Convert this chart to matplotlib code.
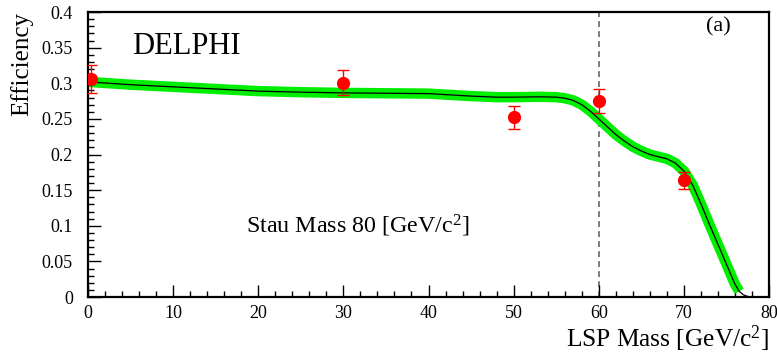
import numpy as np
import matplotlib
matplotlib.use("Agg")
import matplotlib.pyplot as plt
from matplotlib.ticker import MultipleLocator

plt.rcParams['font.family'] = ['Liberation Serif', 'DejaVu Serif']
plt.rcParams['mathtext.fontset'] = 'custom'
plt.rcParams['mathtext.rm'] = 'Liberation Serif'

# measured efficiencies
lsp_mass = [0.3, 30, 50, 60, 70]
eff = [0.306, 0.301, 0.252, 0.275, 0.164]
eff_err = [0.020, 0.0175, 0.016, 0.017, 0.012]

# fitted curve
fit_mass = [0, 5, 10, 15, 20, 25, 30, 35, 40, 45, 48, 50, 53, 55, 56, 57, 58, 59,
            60, 61, 62, 63, 64, 65, 66, 67, 68, 69, 70, 71, 72, 73, 74, 75, 76,
            76.5, 77, 77.7]
fit_eff = [0.302, 0.298, 0.295, 0.292, 0.289, 0.2875, 0.2865, 0.286, 0.2855, 0.282,
           0.2805, 0.2805, 0.281, 0.2805, 0.279, 0.276, 0.270, 0.261,
           0.250, 0.239, 0.228, 0.219, 0.211, 0.205, 0.200, 0.197, 0.194, 0.188,
           0.177, 0.158, 0.131, 0.102, 0.074, 0.046, 0.018,
           0.008, 0.003, 0.0]
band_end = 76.5

fig = plt.figure(figsize=(7.77, 3.56), dpi=100)
ax = fig.add_axes([0.1133, 0.1657, 0.8764, 0.8005])

fm = np.array(fit_mass)
fe = np.array(fit_eff)
sel = fm <= band_end
ax.plot(fm[sel], fe[sel], color='#00ee00', lw=7.5, solid_capstyle='butt', zorder=2)
ax.plot(fm, fe, color='black', lw=0.9, zorder=3)

ax.axvline(60, color='#666666', lw=1.2, ls=(0, (3.5, 2.5)), zorder=1)

ax.errorbar(lsp_mass, eff, yerr=eff_err, fmt='o', color='red', ms=8.5,
            elinewidth=1, capsize=4.5, capthick=1, zorder=4)

ax.set_xlim(0, 80)
ax.set_ylim(0, 0.4)
ax.xaxis.set_major_locator(MultipleLocator(10))
ax.xaxis.set_minor_locator(MultipleLocator(2))
ax.yaxis.set_minor_locator(MultipleLocator(0.01))
ax.set_yticks(np.arange(0, 0.401, 0.05))
ax.set_yticklabels(['0', '0.05', '0.1', '0.15', '0.2', '0.25', '0.3', '0.35', '0.4'])
ax.tick_params(which='both', direction='in', labelsize=13)
ax.tick_params(which='major', length=9, width=1)
ax.tick_params(which='minor', length=4.5, width=1)
ax.tick_params(axis='y', pad=11)
ax.tick_params(axis='x', pad=6)
ax.tick_params(top=False, right=False, which='both')
for s in ax.spines.values():
    s.set_linewidth(1.6)

ax.set_ylabel('Efficiency', fontsize=18, loc='top', labelpad=6)
ax.set_xlabel(r'LSP Mass [GeV/c$\mathregular{^2}$]', fontsize=18.3, loc='right', labelpad=1)

ax.text(5.2, 0.341, 'DELPHI', fontsize=22, va='baseline')
ax.text(72.6, 0.372, '(a)', fontsize=16, va='baseline')
ax.text(18.5, 0.09, r'Stau Mass 80 [GeV/c$\mathregular{^2}$]', fontsize=17.3, va='baseline')

fig.savefig('out.png', dpi=100)
